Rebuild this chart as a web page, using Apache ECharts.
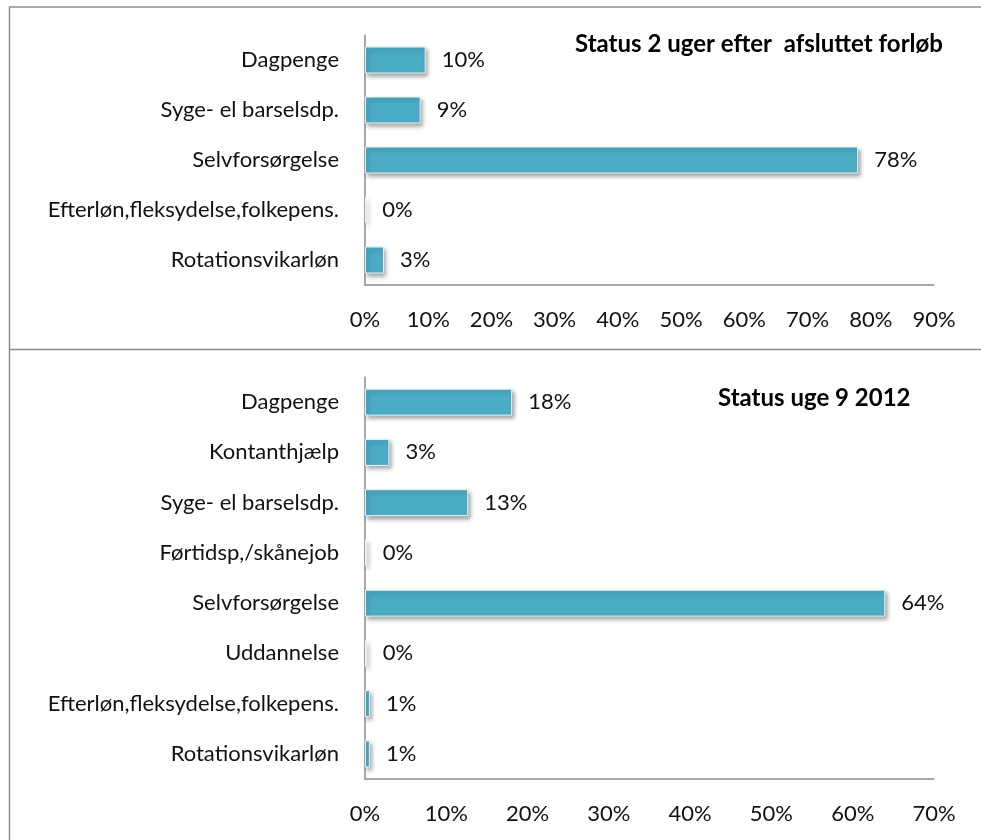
<!DOCTYPE html>
<html>
<head>
<meta charset="utf-8">
<script src="https://cdn.jsdelivr.net/npm/echarts@6/dist/echarts.min.js"></script>
<style>
  html, body { margin: 0; padding: 0; background: #fff; }
  #chart { width: 981px; height: 840px; }
</style>
</head>
<body>
<div id="chart"></div>
<script>
// top panel: status 2 uger efter afsluttet forløb
const topTitle = 'Status 2 uger efter  afsluttet forløb'
const topCategories = ['Dagpenge', 'Syge- el barselsdp.', 'Selvforsørgelse', 'Efterløn,fleksydelse,folkepens.', 'Rotationsvikarløn']
const topValues = [9.6, 8.8, 78.0, 0.2, 3.0]
const topMax = 90

// bottom panel: status uge 9 2012
const bottomTitle = 'Status uge 9 2012'
const bottomCategories = ['Dagpenge', 'Kontanthjælp', 'Syge- el barselsdp.', 'Førtidsp,/skånejob', 'Selvforsørgelse', 'Uddannelse', 'Efterløn,fleksydelse,folkepens.', 'Rotationsvikarløn']
const bottomValues = [18.1, 3.0, 12.7, 0.2, 64.0, 0.2, 0.6, 0.6]
const bottomMax = 70

const font = 'Lato, "Open Sans", sans-serif'
const barColor = '#4bacc6'
const axisGray = '#8c8c8c'
const textSize = 22

const chart = echarts.init(document.getElementById('chart'))

function xAxisFor(gridIndex, max) {
  return {
    type: 'value', gridIndex: gridIndex, min: 0, max: max, interval: 10,
    axisLine: { show: true, lineStyle: { color: axisGray, width: 1.5 } },
    axisTick: { show: false },
    splitLine: { show: false },
    axisLabel: { color: '#111', fontSize: textSize, fontFamily: font, margin: 24, formatter: '{value}%' }
  }
}

function yAxisFor(gridIndex, cats) {
  return {
    type: 'category', gridIndex: gridIndex, data: cats, inverse: true,
    axisLine: { show: true, lineStyle: { color: axisGray, width: 1.5 } },
    axisTick: { show: false },
    axisLabel: { color: '#111', fontSize: textSize, fontFamily: font, margin: 26 }
  }
}

function barSeries(idx, values) {
  return {
    type: 'bar', xAxisIndex: idx, yAxisIndex: idx, data: values,
    barWidth: 27,
    itemStyle: {
      color: barColor, borderColor: '#e8f4f7', borderWidth: 1,
      shadowColor: 'rgba(0,0,0,0.35)', shadowBlur: 4, shadowOffsetX: 2, shadowOffsetY: 3
    },
    label: {
      show: true, position: 'right', distance: 16, color: '#111',
      fontSize: textSize, fontFamily: font,
      formatter: (p) => Math.round(p.value) + '%'
    }
  }
}

const option = {
  animation: false,
  backgroundColor: '#fff',
  title: [
    { text: topTitle, left: 570, top: 27, textStyle: { fontSize: 24, fontWeight: 'bold', fontFamily: font, color: '#000' } },
    { text: bottomTitle, left: 713, top: 381, textStyle: { fontSize: 24, fontWeight: 'bold', fontFamily: font, color: '#000' } }
  ],
  grid: [
    { left: 365, right: 47, top: 35, bottom: 555 },
    { left: 365, right: 47, top: 377, bottom: 61 }
  ],
  xAxis: [xAxisFor(0, topMax), xAxisFor(1, bottomMax)],
  yAxis: [yAxisFor(0, topCategories), yAxisFor(1, bottomCategories)],
  series: [barSeries(0, topValues), barSeries(1, bottomValues)],
  graphic: [
    { type: 'line', shape: { x1: 9, y1: 7, x2: 981, y2: 7 }, style: { stroke: '#8c8c8c', lineWidth: 1.5 } },
    { type: 'line', shape: { x1: 9, y1: 349.5, x2: 981, y2: 349.5 }, style: { stroke: '#8c8c8c', lineWidth: 1.5 } },
    { type: 'line', shape: { x1: 9.5, y1: 7, x2: 9.5, y2: 840 }, style: { stroke: '#8c8c8c', lineWidth: 1.5 } }
  ]
}

chart.setOption(option)
</script>
</body>
</html>
